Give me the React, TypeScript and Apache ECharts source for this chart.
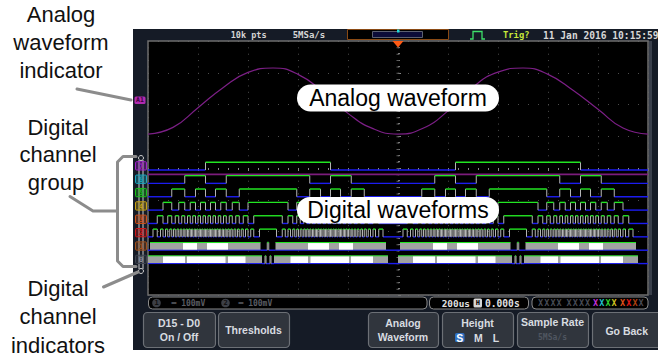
import React, { useEffect, useRef } from 'react';
import * as echarts from 'echarts';

// ---------- data (time in µs, trigger at 0; analog value in divisions) ----------
const analogTimes = [-1000, -900, -800, -700, -600, -500, -400, -300, -200, -100, 0, 100, 200, 300, 400, 500, 600, 700, 800, 900, 1000];
const analogValues = [1.07, 1.28, 1.9, 2.53, 3.01, 3.15, 2.95, 2.4, 1.72, 1.24, 1.07, 1.25, 1.8, 2.55, 3.02, 3.15, 2.95, 2.45, 1.85, 1.26, 1.07];

const busLevel = -0.2;
const channelLabels = ['7', '6', '5', '4', '3', '2', '1', '0'];
// start time of each repeating cycle of the digital pattern (µs)
const cycleStarts = [-1020, -20];

// high intervals inside one cycle (µs offsets from cycle start)
const d7High = [[250, 750]];
const d6High = [[167, 250], [333, 667], [750, 833]];
const d5High = [[115, 167], [210, 250], [290, 333], [385, 615], [667, 710], [750, 790], [833, 885]];
const d4High = [[80, 115], [143, 167], [189, 210], [230, 250], [270, 290], [311, 333], [357, 385], [420, 580], [615, 643], [667, 689], [710, 730], [750, 770], [790, 811], [833, 857], [885, 920]];
const d3High = [[57, 80], [99, 115], [129, 143], [155, 167], [178, 189], [199, 210], [220, 230], [240, 250], [260, 270], [280, 290], [301, 311], [322, 333], [345, 357], [371, 385], [401, 420], [443, 557], [580, 599], [615, 629], [643, 655], [667, 678], [689, 699], [710, 720], [730, 740], [750, 760], [770, 780], [790, 801], [811, 822], [833, 845], [857, 871], [885, 901], [920, 943]];
const d2High = [[40, 57], [70, 80], [90, 99], [107, 115], [122, 129], [136, 143], [149, 155], [161, 167], [172, 178], [183, 189], [194, 199], [205, 210], [215, 220], [225, 230], [235, 240], [245, 250], [255, 260], [265, 270], [275, 280], [285, 290], [295, 301], [306, 311], [317, 322], [328, 333], [339, 345], [351, 357], [364, 371], [378, 385], [393, 401], [410, 420], [431, 443], [466, 534], [557, 569], [580, 590], [599, 607], [615, 622], [629, 636], [643, 649], [655, 661], [667, 672], [678, 683], [689, 694], [699, 705], [710, 715], [720, 725], [730, 735], [740, 745], [750, 755], [760, 765], [770, 775], [780, 785], [790, 795], [801, 806], [811, 817], [822, 828], [833, 839], [845, 851], [857, 864], [871, 878], [885, 893], [901, 910], [920, 930], [943, 960]];
const d1Busy = [[28, 470], [530, 972]];
const d1Bright = [[160, 216], [256, 340], [660, 744], [784, 840]];
const d1Pulse = [[497, 503]];
const d0Busy = [[20, 476], [524, 980]];
const d0Bright = [[80, 168], [176, 330], [340, 410], [590, 660], [670, 824], [832, 920]];
const d0Pulse = [[488, 492], [508, 512]];

// ---------- layout / style constants ----------
const T_MIN = -1000;
const T_MAX = 1000;
const CH_FIRST_LOW = -0.063;
const CH_STEP = 0.421;
const CH_AMP = 0.243;
const GREEN = '#22e622';
const BLUE = '#1c1cf0';
const EDGE = '#b4b4b4';
const SANS = '"Liberation Sans", Arial, sans-serif';
const MONO = '"DejaVu Sans Mono", monospace';
const tagColors = ['#a020c8', '#18a8c0', '#18c018', '#c8a010', '#d05018', '#d01818', '#a0501a', '#3e4450'];
const xColors = ['#474b55', '#474b55', '#474b55', '#474b55', '#474b55', '#474b55', '#474b55', '#474b55', '#c030d8', '#20c0d0', '#30d030', '#d0c020', '#e0501a', '#e01818', '#b04010', '#4a4a55'];

const channelDefs: any[] = [
  { high: d7High }, { high: d6High }, { high: d5High }, { high: d4High },
  { high: d3High }, { high: d2High },
  { high: d1Pulse, busy: d1Busy, bright: d1Bright },
  { high: d0Pulse, busy: d0Busy, bright: d0Bright },
];

function place(list: number[][]) {
  const out: number[][] = [];
  cycleStarts.forEach((s) => list.forEach(([a, b]) => {
    const x0 = Math.max(T_MIN, s + a);
    const x1 = Math.min(T_MAX, s + b);
    if (x1 > x0) out.push([x0, x1]);
  }));
  return out.sort((p, q) => p[0] - q[0]);
}
function lowsOf(occ: number[][]) {
  const out: number[][] = [];
  let cur = T_MIN;
  occ.forEach(([a, b]) => { if (a > cur) out.push([cur, a]); cur = Math.max(cur, b); });
  if (cur < T_MAX) out.push([cur, T_MAX]);
  return out;
}

const lowItems: number[][] = [];
const highItems: number[][] = [];
const busyItems: number[][] = [];
const brightItems: number[][] = [];
channelDefs.forEach((def, ch) => {
  const hi = place(def.high);
  const bu = place(def.busy || []);
  const br = place(def.bright || []);
  const occ = [...hi, ...bu].sort((a, b) => a[0] - b[0]);
  lowsOf(occ).forEach(([a, b]) => lowItems.push([a, b, ch, 0]));
  hi.forEach(([a, b]) => highItems.push([a, b, ch, 1]));
  bu.forEach(([a, b]) => busyItems.push([a, b, ch, 2]));
  br.forEach(([a, b]) => brightItems.push([a, b, ch, 3]));
});
const digitalData = [...lowItems, ...busyItems, ...brightItems, ...highItems];

// ---------- graphic helpers ----------
const T = (x: number, y: number, text: string, size: number, fill: string, opts: any = {}) => ({
  type: 'text', x, y, z: opts.z ?? 20, silent: true,
  style: {
    text, fill, fontSize: size, fontFamily: opts.family ?? MONO, fontWeight: opts.weight ?? 'bold',
    textAlign: opts.align ?? 'left', textVerticalAlign: 'middle', verticalAlign: 'middle',
  },
});
const R = (x: number, y: number, w: number, h: number, style: any, r = 0, z = 1) => ({
  type: 'rect', shape: { x, y, width: w, height: h, r }, style, z, silent: true,
});
const PL = (points: number[][], style: any, z = 30) => ({ type: 'polyline', shape: { points }, style, z, silent: true });

function hexA(hex: string, a: number) {
  const n = parseInt(hex.slice(1), 16);
  return `rgba(${(n >> 16) & 255},${(n >> 8) & 255},${n & 255},${a})`;
}

function buildGraphics() {
  const g: any[] = [];
  // scope panel and plot area
  g.push(R(133, 29, 525, 321, { fill: '#151b26' }, 0, -10));
  g.push(R(148, 41, 500, 254, { fill: '#000000' }, 0, -5));
  g.push(R(148, 41, 500, 254, { fill: 'none', stroke: '#6e6e6e', lineWidth: 1.5 }, 0, 4));
  g.push(R(649, 41, 3, 254, { fill: '#3a404c' }, 0, 4));
  g.push({ type: 'line', shape: { x1: 398, y1: 41, x2: 398, y2: 295 }, style: { stroke: '#5e5e5e', lineWidth: 3, lineDash: [1, 5.35] }, z: 3, silent: true });
  g.push({ type: 'polygon', shape: { points: [[392.5, 41], [403.5, 41], [398, 47.5]] }, style: { fill: '#ff5a14' }, z: 12, silent: true });

  // status bar
  g.push(T(230.7, 35, '10k pts', 8.5, '#d5d5d5'));
  g.push(T(292.7, 35, '5MSa/s', 9, '#d5d5d5'));
  g.push(R(347.5, 29.5, 101, 10, { fill: '#000', stroke: '#8a4a14', lineWidth: 1 }, 0, 10));
  g.push(R(372.5, 31.5, 50, 6, { fill: '#0c0c38', stroke: '#5c6070', lineWidth: 1 }, 0, 11));
  g.push(R(397, 29.5, 2.5, 3, { fill: '#20d8d8' }, 0, 12));
  g.push(PL([[470, 39], [473, 39], [473, 31.5], [482, 31.5], [482, 39], [485, 39]], { stroke: '#3ee06a', lineWidth: 1.3, fill: 'none' }, 12));
  g.push(T(503, 35, 'Trig?', 8.8, '#c8e83a'));
  g.push(T(543, 35, '11 Jan 2016 10:15:59', 9.6, '#d8d8d8'));

  // analog indicator
  g.push(R(134.5, 96.5, 11, 7.5, { fill: '#b02ab0' }, 1.5, 10));
  g.push(T(140, 100.3, 'A1', 6.5, '#3a003a', { align: 'center' }));

  // digital channel ladder and tags
  g.push({ type: 'line', shape: { x1: 139, y1: 160, x2: 139, y2: 269 }, style: { stroke: '#cfcfcf', lineWidth: 1 }, z: 8, silent: true });
  g.push({ type: 'line', shape: { x1: 143, y1: 160, x2: 143, y2: 269 }, style: { stroke: '#cfcfcf', lineWidth: 1 }, z: 8, silent: true });
  g.push({ type: 'circle', shape: { cx: 141, cy: 158, r: 2.5 }, style: { fill: 'none', stroke: '#d0d0d0', lineWidth: 1 }, z: 8, silent: true });
  g.push({ type: 'circle', shape: { cx: 141, cy: 271, r: 2.5 }, style: { fill: 'none', stroke: '#d0d0d0', lineWidth: 1 }, z: 8, silent: true });
  channelLabels.forEach((lab, i) => {
    const top = 161.7 + i * 13.36;
    g.push(R(135.5, top, 11, 8.3, { fill: hexA(tagColors[i], 0.35), stroke: tagColors[i], lineWidth: 1 }, 1, 9));
    g.push(T(141, top + 4.4, lab, 7.5, i === 7 ? '#8a90a0' : tagColors[i], { align: 'center', z: 10 }));
  });

  // bottom info bar
  g.push(R(148.5, 297, 278.5, 12, { fill: '#000', stroke: '#8a8a8a', lineWidth: 1 }, 4, 6));
  g.push({ type: 'circle', shape: { cx: 156.5, cy: 303, r: 4.3 }, style: { fill: '#3c3f46' }, z: 7, silent: true });
  g.push(T(156.5, 303, '1', 7, '#111', { align: 'center' }));
  g.push(T(171.5, 303, '═ 100mV', 8, '#5a5d63'));
  g.push({ type: 'circle', shape: { cx: 225.5, cy: 303, r: 4.3 }, style: { fill: '#3c3f46' }, z: 7, silent: true });
  g.push(T(225.5, 303, '2', 7, '#111', { align: 'center' }));
  g.push(T(238.5, 303, '═ 100mV', 8, '#5a5d63'));
  g.push(R(429.5, 297, 99, 12, { fill: '#000', stroke: '#8a8a8a', lineWidth: 1 }, 4, 6));
  g.push(T(441.7, 303, '200us', 9.4, '#e0e0e0'));
  g.push(R(473.5, 298.5, 8.5, 9, { fill: '#d8d8d8' }, 1.5, 7));
  g.push(T(477.75, 303, 'H', 7, '#000', { align: 'center' }));
  g.push(T(485, 303, '0.000s', 9.6, '#e0e0e0'));
  g.push(R(532, 297, 116, 12, { fill: '#000', stroke: '#8a8a8a', lineWidth: 1 }, 4, 6));
  [538, 566.5, 593, 620].forEach((gx, gi) => {
    for (let k = 0; k < 4; k++) {
      g.push(T(gx + k * 6.2, 303, 'X', 8.5, xColors[gi * 4 + k]));
    }
  });

  // soft keys
  const keys = [[143, 72], [218, 71], [368, 70], [442, 71], [517, 71], [592, 70]];
  keys.forEach(([x, w]) => g.push(R(x + 0.5, 312.5, w, 35, { fill: '#30353d', stroke: '#6c7076', lineWidth: 1.2 }, 4, 6)));
  const kf = { family: SANS, align: 'center' };
  g.push(T(179, 322.7, 'D15 - D0', 10.5, '#d8dce0', kf));
  g.push(T(179, 337.3, 'On / Off', 10.5, '#d8dce0', kf));
  g.push(T(253.5, 330, 'Thresholds', 10.5, '#d8dce0', kf));
  g.push(T(403, 322.7, 'Analog', 10.5, '#d8dce0', kf));
  g.push(T(403, 337.3, 'Waveform', 10.5, '#d8dce0', kf));
  g.push(T(477.5, 322.7, 'Height', 10.5, '#d8dce0', kf));
  g.push(R(455, 333, 9.5, 9, { fill: '#2f6fc0' }, 1.5, 8));
  g.push(T(459.75, 337.6, 'S', 10.5, '#ffffff', kf));
  g.push(T(478.3, 337.6, 'M', 10.5, '#d8dce0', kf));
  g.push(T(496, 337.6, 'L', 10.5, '#d8dce0', kf));
  g.push(T(552.5, 322.4, 'Sample Rate', 10.5, '#d8dce0', kf));
  g.push(T(552.5, 337.3, '5MSa/s', 8, '#4f5560', { align: 'center' }));
  g.push(T(626.7, 330.5, 'Go Back', 10.5, '#d8dce0', kf));

  // in-chart callouts
  g.push(R(297, 84.5, 202, 27, { fill: '#ffffff' }, 13.5, 40));
  g.push(T(398, 97.5, 'Analog waveform', 23, '#000', { family: SANS, weight: 'normal', align: 'center', z: 41 }));
  g.push(R(297, 197, 202, 26.5, { fill: '#ffffff' }, 13, 40));
  g.push(T(398, 210.3, 'Digital waveforms', 23, '#000', { family: SANS, weight: 'normal', align: 'center', z: 41 }));

  // left annotations
  const af = { family: SANS, weight: 'normal', align: 'center' };
  g.push(T(61, 14.2, 'Analog', 22, '#111', af));
  g.push(T(61, 42.4, 'waveform', 22, '#111', af));
  g.push(T(61, 70.7, 'indicator', 22, '#111', af));
  g.push(T(58, 127.4, 'Digital', 22, '#111', af));
  g.push(T(58, 154.2, 'channel', 22, '#111', af));
  g.push(T(56, 182.4, 'group', 22, '#111', af));
  g.push(T(58, 288.4, 'Digital', 22, '#111', af));
  g.push(T(58, 316.7, 'channel', 22, '#111', af));
  g.push(T(58, 345, 'indicators', 22, '#111', af));
  const ls = { stroke: '#8c8c8c', lineWidth: 3, fill: 'none', lineCap: 'round', lineJoin: 'round' };
  g.push(PL([[77, 89], [131, 100]], ls));
  g.push(PL([[136, 156.5], [123, 156.5], [117.5, 162], [117.5, 261], [123, 266.5], [136, 266.5]], ls));
  g.push(PL([[70, 196.5], [93, 211], [117.5, 211]], ls));
  g.push(PL([[103.5, 287], [138, 272]], ls));
  return g;
}

export default function App() {
  const ref = useRef<HTMLDivElement>(null);
  useEffect(() => {
    if (!ref.current) return;
    const chart = echarts.init(ref.current, null, { renderer: 'svg', width: 658, height: 357 });
    const option: any = {
      animation: false,
      backgroundColor: '#ffffff',
      grid: { left: 148, top: 41, width: 500, height: 254, show: false },
      xAxis: {
        type: 'value', min: T_MIN, max: T_MAX, interval: 200, position: 'top',
        axisLine: { show: false }, axisLabel: { show: false },
        axisTick: { show: true, inside: true, length: 3, lineStyle: { color: '#8a8a8a' } },
        minorTick: { show: true, splitNumber: 5, length: 2, lineStyle: { color: '#8a8a8a' } },
        splitLine: { show: true, lineStyle: { color: '#4c4c4c', type: [1, 5.35], width: 1 } },
      },
      yAxis: {
        type: 'value', min: -4, max: 4, interval: 1,
        axisLine: { show: false }, axisLabel: { show: false },
        axisTick: { show: true, inside: true, length: 3, lineStyle: { color: '#8a8a8a' } },
        minorTick: { show: true, splitNumber: 5, length: 2, lineStyle: { color: '#8a8a8a' } },
        splitLine: { show: true, lineStyle: { color: '#4c4c4c', type: [1, 9], width: 1 } },
      },
      series: [
        {
          type: 'line', name: 'Analog', data: analogTimes.map((t, i) => [t, analogValues[i]]),
          smooth: 0.5, showSymbol: false, symbol: 'none', z: 5,
          lineStyle: { color: '#7c1f86', width: 1.2 },
        },
        {
          type: 'line', name: 'Bus', data: [[T_MIN, busLevel], [T_MAX, busLevel]],
          showSymbol: false, symbol: 'none', z: 4,
          lineStyle: { color: '#7c1c7c', width: 1.6 },
        },
        {
          type: 'custom', name: 'Digital', data: digitalData, clip: true, z: 6,
          renderItem: (params: any, api: any) => {
            const t0 = api.value(0), t1 = api.value(1), ch = api.value(2), kind = api.value(3);
            const lowV = CH_FIRST_LOW - ch * CH_STEP;
            const highV = lowV + CH_AMP;
            const a = api.coord([t0, lowV]);
            const b = api.coord([t1, highV]);
            const x0 = a[0], x1 = b[0], yl = a[1], yh = b[1];
            if (kind === 0) {
              return { type: 'line', shape: { x1: x0, y1: yl, x2: x1, y2: yl }, style: { stroke: BLUE, lineWidth: 1.4 } };
            }
            if (kind === 1) {
              return {
                type: 'group', children: [
                  { type: 'line', shape: { x1: x0, y1: yl, x2: x0, y2: yh }, style: { stroke: EDGE, lineWidth: 1 } },
                  { type: 'line', shape: { x1: x1, y1: yl, x2: x1, y2: yh }, style: { stroke: EDGE, lineWidth: 1 } },
                  { type: 'line', shape: { x1: x0, y1: yh, x2: x1, y2: yh }, style: { stroke: GREEN, lineWidth: 1.4 } },
                ],
              };
            }
            if (kind === 2) {
              return {
                type: 'group', children: [
                  { type: 'rect', shape: { x: x0, y: yh, width: x1 - x0, height: yl - yh }, style: { fill: '#a2a2a2' } },
                  { type: 'line', shape: { x1: x0, y1: yh, x2: x1, y2: yh }, style: { stroke: GREEN, lineWidth: 1 } },
                  { type: 'line', shape: { x1: x0, y1: yl, x2: x1, y2: yl }, style: { stroke: BLUE, lineWidth: 1 } },
                ],
              };
            }
            return { type: 'rect', shape: { x: x0, y: yh + 0.6, width: x1 - x0, height: yl - yh - 1.2 }, style: { fill: '#ffffff' } };
          },
        },
      ],
      graphic: buildGraphics(),
    };
    chart.setOption(option);
    return () => chart.dispose();
  }, []);
  return <div ref={ref} style={{ position: 'fixed', left: 0, top: 0, width: 658, height: 357 }} />;
}
